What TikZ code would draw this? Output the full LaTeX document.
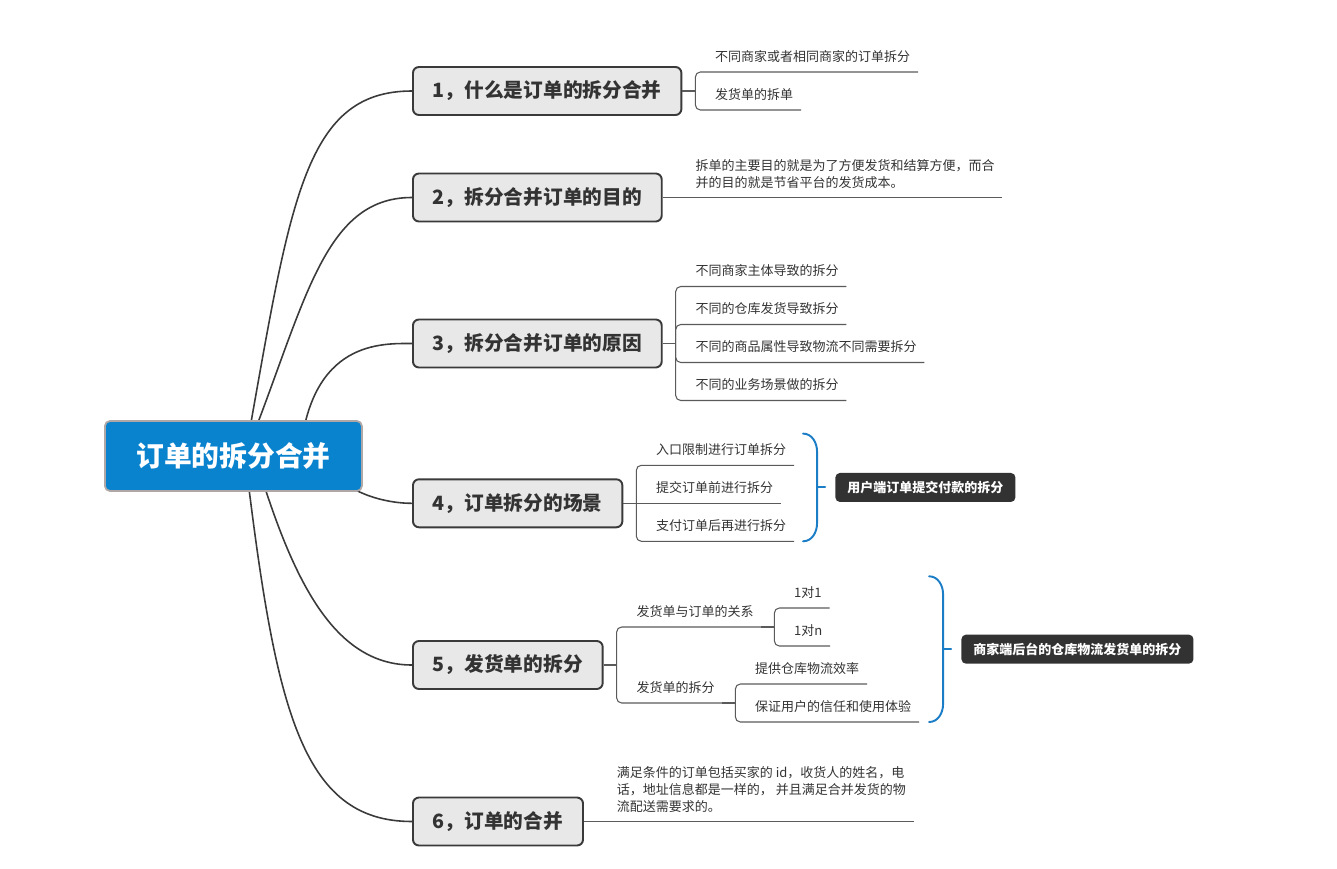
\documentclass[tikz,border=0pt]{standalone}
\usepackage{fontspec}
\setmainfont{Noto Sans CJK SC}
\usetikzlibrary{positioning,calc,backgrounds}
\definecolor{rootblue}{HTML}{0A83CF}
\definecolor{rootedge}{HTML}{B0A8A6}
\definecolor{boxfill}{HTML}{E8E8E8}
\definecolor{boxline}{HTML}{3A3A3A}
\definecolor{textdark}{HTML}{333333}
\definecolor{leafgray}{HTML}{5A5A5A}
\definecolor{bracecol}{HTML}{1A7DC6}
\definecolor{sumfill}{HTML}{323232}
\tikzset{
	root/.style={fill=rootblue, draw=rootedge, line width=1pt, rounded corners=0.1cm,
		minimum width=5.14cm, minimum height=1.4cm, text=white,
		font=\bfseries\fontsize{15.8}{19}\selectfont},
	branch/.style={anchor=west, fill=boxfill, draw=boxline, line width=1.1pt, rounded corners=0.12cm,
		minimum height=0.96cm, inner xsep=0.4cm, text=textdark,
		font=\bfseries\fontsize{11.2}{13}\selectfont},
	lbase/.style={anchor=south west, inner xsep=0.15cm, inner ysep=0.18cm, text=textdark,
		font=\fontsize{7.4}{9.65}\selectfont},
	leaf/.style={lbase, text height=0.23cm, text depth=0.03cm},
	note/.style={lbase, align=left},
	summary/.style={fill=sumfill, text=white, rounded corners=0.09cm, inner xsep=0.24cm,
		minimum height=0.58cm, font=\bfseries\fontsize{7.4}{9}\selectfont},
	curve/.style={draw=boxline, line width=0.9pt},
	leafline/.style={draw=leafgray, line width=0.6pt, rounded corners=0.1cm},
	brace/.style={draw=bracecol, line width=1.1pt, line cap=round}
}
\begin{document}
\begin{tikzpicture}[x=0.02cm,y=-0.02cm,line join=round]
	\useasboundingbox (0,0) rectangle (1337,868);
	%
	\node[root] (root) at (233.4,456) {订单的拆分合并};
	\node[branch] (b1) at (412,91) {1，什么是订单的拆分合并};
	\node[branch] (b2) at (412,197.5) {2，拆分合并订单的目的};
	\node[branch] (b3) at (412,343.5) {3，拆分合并订单的原因};
	\node[branch] (b4) at (412,503.3) {4，订单拆分的场景};
	\node[branch] (b5) at (412,665) {5，发货单的拆分};
	\node[branch] (b6) at (412,821.5) {6，订单的合并};
	\begin{scope}[on background layer]
		\draw[curve] ($(root.center)+(11.6,0)$) .. controls +(45,-250) and +(-110,0) .. (b1.west);
		\draw[curve] ($(root.center)+(11.6,0)$) .. controls +(60,-150) and +(-90,0) .. (b2.west);
		\draw[curve] ($(root.center)+(66.6,0)$) .. controls +(10,-116) and +(-30,0) .. (b3.west);
		\draw[curve] ($(root.center)+(96.6,14)$) .. controls +(15,20) and +(-32,0) .. (b4.west);
		\draw[curve] ($(root.center)+(21.6,0)$) .. controls +(36,120) and +(-80,0) .. (b5.west);
		\draw[curve] ($(root.center)+(11.6,0)$) .. controls +(30,250) and +(-112,0) .. (b6.west);
	\end{scope}
	%
	\draw[leafline] (b1.east) -- ++(13,0) coordinate (j1);
	\node[leaf] (l11) at ($(j1)+(12,-19)$) {不同商家或者相同商家的订单拆分};
	\node[leaf] (l12) at ($(j1)+(12,19)$) {发货单的拆单};
	\draw[leafline] (j1) |- (l11.south west) -- (l11.south east);
	\draw[leafline] (j1) |- (l12.south west) -- (l12.south east);
	%
	\node[note] (l21) at ($(b2.east)+(25,0)$) {拆单的主要目的就是为了方便发货和结算方便，而合\\并的目的就是节省平台的发货成本。};
	\draw[leafline] (b2.east) -- (l21.south west) -- (l21.south east);
	%
	\draw[leafline] (b3.east) -- ++(13,0) coordinate (j3);
	\node[leaf] (l31) at ($(j3)+(12,-57)$) {不同商家主体导致的拆分};
	\node[leaf] (l32) at ($(j3)+(12,-19)$) {不同的仓库发货导致拆分};
	\node[leaf] (l33) at ($(j3)+(12,19)$) {不同的商品属性导致物流不同需要拆分};
	\node[leaf] (l34) at ($(j3)+(12,57)$) {不同的业务场景做的拆分};
	\draw[leafline] (j3) |- (l31.south west) -- (l31.south east);
	\draw[leafline] (j3) |- (l32.south west) -- (l32.south east);
	\draw[leafline] (j3) |- (l33.south west) -- (l33.south east);
	\draw[leafline] (j3) |- (l34.south west) -- (l34.south east);
	%
	\draw[leafline] (b4.east) -- ++(13,0) coordinate (j4);
	\node[leaf] (l41) at ($(j4)+(12,-38)$) {入口限制进行订单拆分};
	\node[leaf] (l42) at ($(j4)+(12,0)$) {提交订单前进行拆分};
	\node[leaf] (l43) at ($(j4)+(12,38)$) {支付订单后再进行拆分};
	\draw[leafline] (j4) |- (l41.south west) -- (l41.south east);
	\draw[leafline] (j4) -- (l42.south west) -- (l42.south east);
	\draw[leafline] (j4) |- (l43.south west) -- (l43.south east);
	\coordinate (t4) at ($(l41.north east)+(9,0)$);
	\coordinate (d4) at ($(l43.south east)+(9,0)$);
	\draw[brace] (t4) to[out=0,in=90] ($(t4)+(14,18)$) -- ($(d4)+(14,-18)$) to[out=-90,in=0] (d4);
	\draw[brace] ($(t4)!0.5!(d4)+(14,0)$) -- ++(8,0) coordinate (m4);
	\node[summary, right=0.2cm of m4] (s4) {用户端订单提交付款的拆分};
	%
	\draw[leafline] (b5.east) -- ++(13,0) coordinate (j5);
	\node[leaf] (l51) at ($(j5)+(12,-38)$) {发货单与订单的关系};
	\node[leaf] (l52) at ($(j5)+(12,38)$) {发货单的拆分};
	\draw[leafline] (j5) |- (l51.south west) -- (l51.south east);
	\draw[leafline] (j5) |- (l52.south west) -- (l52.south east);
	\draw[leafline] (l51.south east) -- ++(13,0) coordinate (j51);
	\node[leaf] (l511) at ($(j51)+(12,-19)$) {1对1};
	\node[leaf] (l512) at ($(j51)+(12,19)$) {1对n};
	\draw[leafline] (j51) |- (l511.south west) -- (l511.south east);
	\draw[leafline] (j51) |- (l512.south west) -- (l512.south east);
	\draw[leafline] (l52.south east) -- ++(13,0) coordinate (j52);
	\node[leaf] (l521) at ($(j52)+(12,-19)$) {提供仓库物流效率};
	\node[leaf] (l522) at ($(j52)+(12,19)$) {保证用户的信任和使用体验};
	\draw[leafline] (j52) |- (l521.south west) -- (l521.south east);
	\draw[leafline] (j52) |- (l522.south west) -- (l522.south east);
	\coordinate (t5) at ($(l522.east |- l511.north)+(10,0)$);
	\coordinate (d5) at ($(l522.south east)+(10,0)$);
	\draw[brace] (t5) to[out=0,in=90] ($(t5)+(14,18)$) -- ($(d5)+(14,-18)$) to[out=-90,in=0] (d5);
	\draw[brace] ($(t5)!0.5!(d5)+(14,0)$) -- ++(8,0) coordinate (m5);
	\node[summary, right=0.2cm of m5] (s5) {商家端后台的仓库物流发货单的拆分};
	%
	\node[note] (l61) at ($(b6.east)+(25,0)$) {满足条件的订单包括买家的 id，收货人的姓名，电\\话，地址信息都是一样的， 并且满足合并发货的物\\流配送需要求的。};
	\draw[leafline] (b6.east) -- (l61.south west) -- (l61.south east);
\end{tikzpicture}
\end{document}
